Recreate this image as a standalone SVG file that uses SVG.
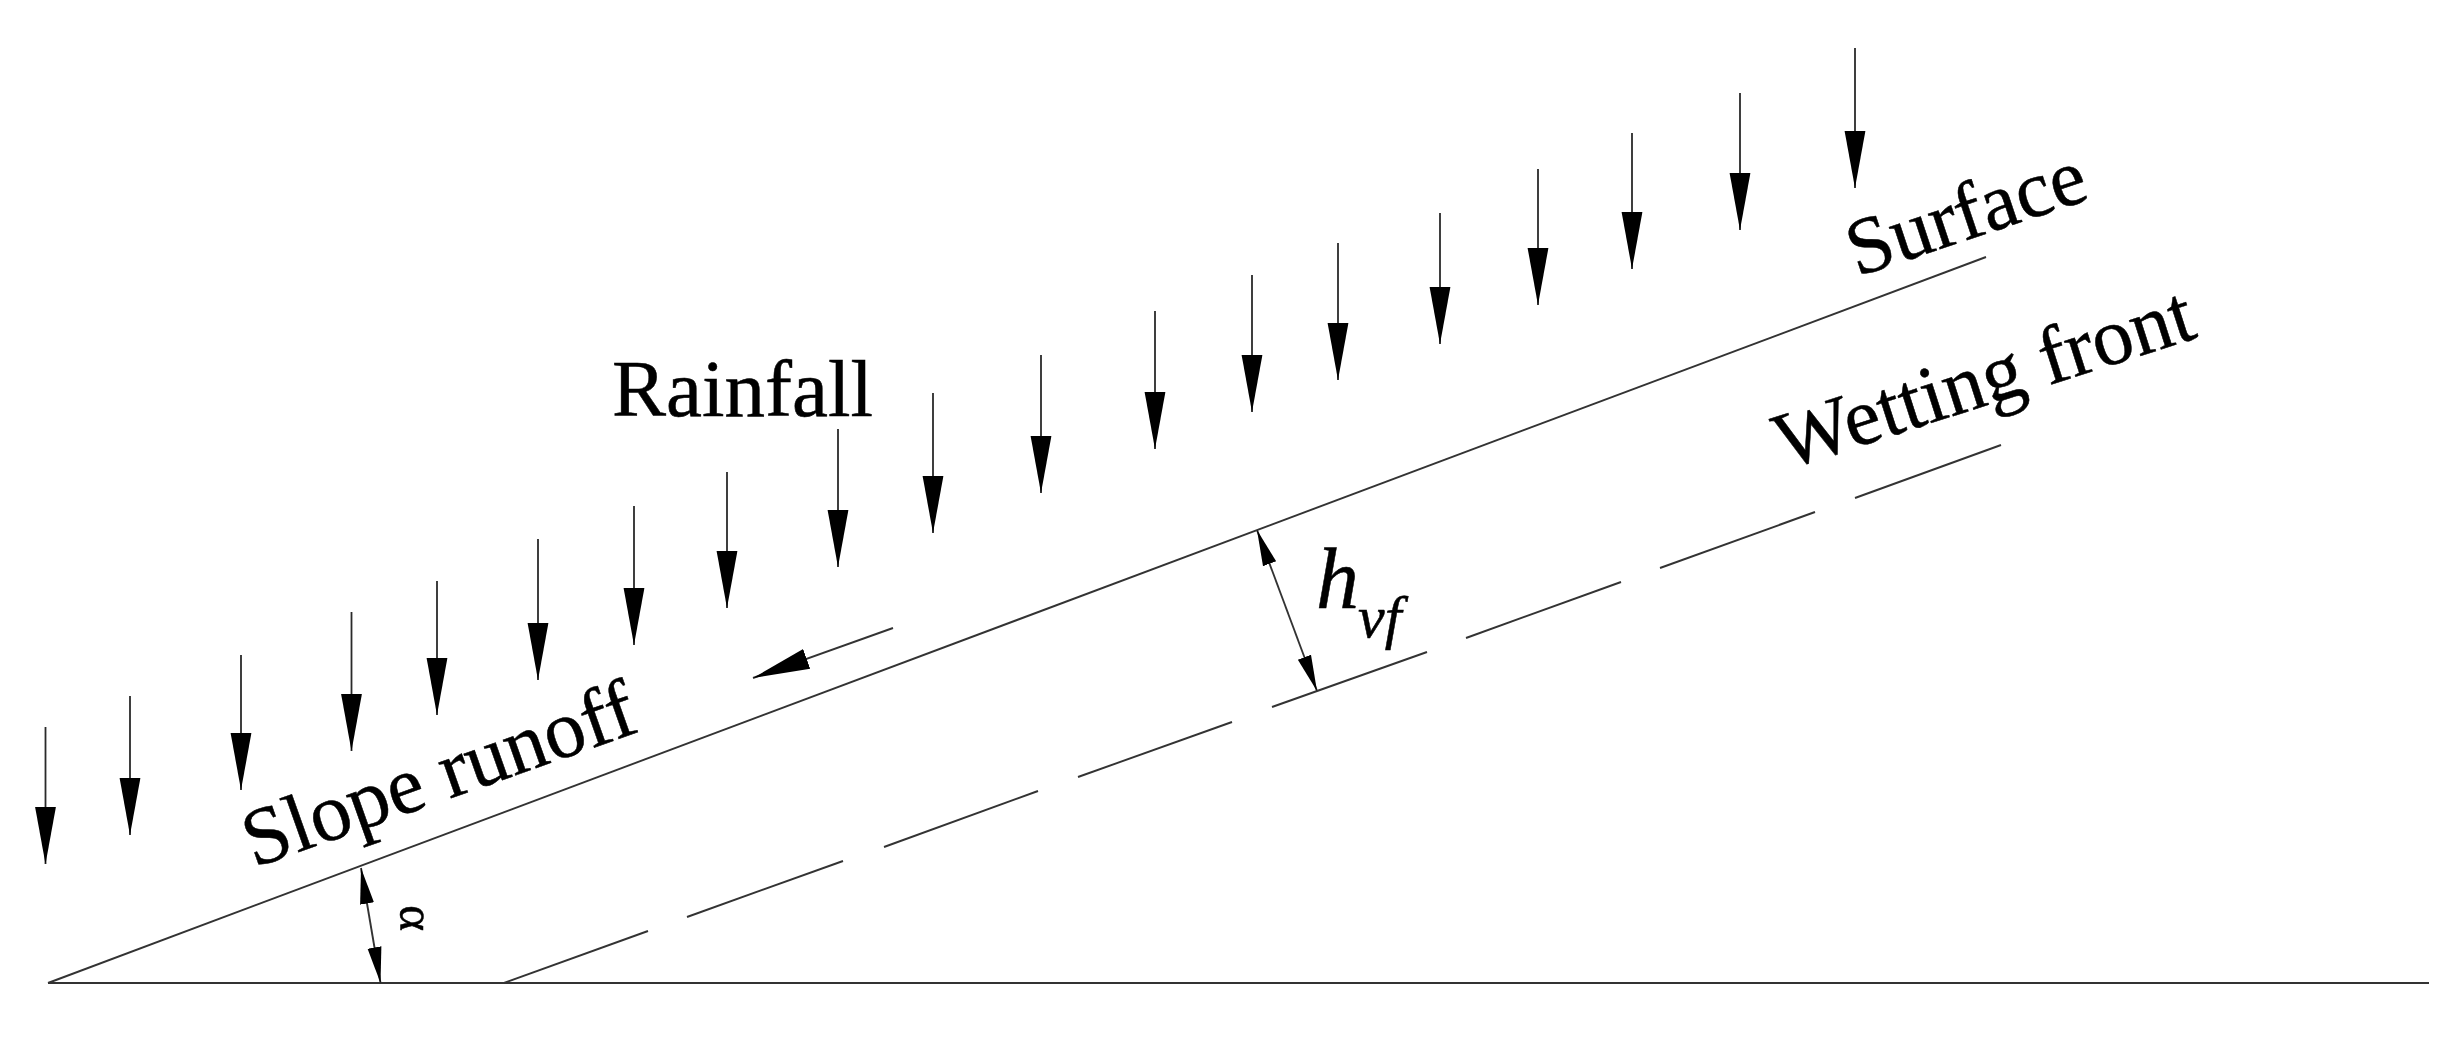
<svg xmlns="http://www.w3.org/2000/svg" width="2454" height="1041" viewBox="0 0 2454 1041">
<style>
.l{stroke:#333;stroke-width:1.9;fill:none}
.r{stroke:#2a2a2a;stroke-width:1.8;fill:none;marker-end:url(#rain)}
.t{font-family:"Liberation Serif","Times New Roman",serif;font-size:81px;fill:#000;stroke:#000;stroke-width:.5}
.i{font-style:italic}
</style>
<defs>
<marker id="rain" markerUnits="userSpaceOnUse" markerWidth="60" markerHeight="24" refX="57" refY="12" orient="auto" viewBox="0 0 60 24"><path d="M0,1.6 L57,12 L0,22.4 Z" fill="#000"/></marker>
<marker id="runoff" markerUnits="userSpaceOnUse" markerWidth="60" markerHeight="26" refX="57" refY="13" orient="auto" viewBox="0 0 60 26"><path d="M0,2.5 L57,13 L0,23.5 Z" fill="#000"/></marker>
<marker id="dim" markerUnits="userSpaceOnUse" markerWidth="40" markerHeight="20" refX="36" refY="10" orient="auto-start-reverse" viewBox="0 0 40 20"><path d="M0,3 L36,10 L0,17 Z" fill="#000"/></marker>
</defs>
<rect width="2454" height="1041" fill="#fff"/>
<g id="ground"><line class="l" x1="48" y1="983" x2="2429" y2="983"/></g>
<g id="connectors">
<line class="l" id="surface-line" x1="48" y1="983" x2="1986" y2="257"/>
<g id="wetting-front-line">
<line class="l" x1="504" y1="983" x2="648" y2="931"/>
<line class="l" x1="687" y1="917" x2="843" y2="861"/>
<line class="l" x1="884" y1="847" x2="1038" y2="791"/>
<line class="l" x1="1078" y1="777" x2="1232" y2="722"/>
<line class="l" x1="1272" y1="707" x2="1427" y2="652"/>
<line class="l" x1="1466" y1="638" x2="1621" y2="582"/>
<line class="l" x1="1660" y1="568" x2="1815" y2="512"/>
<line class="l" x1="1855" y1="498" x2="2001" y2="445"/>
</g>
<g id="rain-arrows">
<line class="r" x1="45.5" y1="727" x2="45.5" y2="864"/>
<line class="r" x1="130" y1="696" x2="130" y2="835"/>
<line class="r" x1="241" y1="655" x2="241" y2="790"/>
<line class="r" x1="351.5" y1="612" x2="351.5" y2="751"/>
<line class="r" x1="437" y1="581" x2="437" y2="715"/>
<line class="r" x1="538" y1="539" x2="538" y2="680"/>
<line class="r" x1="634" y1="506" x2="634" y2="645"/>
<line class="r" x1="727" y1="472" x2="727" y2="608"/>
<line class="r" x1="838" y1="429" x2="838" y2="567"/>
<line class="r" x1="933" y1="393" x2="933" y2="533"/>
<line class="r" x1="1041" y1="355" x2="1041" y2="493"/>
<line class="r" x1="1155" y1="311" x2="1155" y2="449"/>
<line class="r" x1="1252" y1="275" x2="1252" y2="412"/>
<line class="r" x1="1338" y1="243" x2="1338" y2="380"/>
<line class="r" x1="1440" y1="213" x2="1440" y2="344"/>
<line class="r" x1="1538" y1="169" x2="1538" y2="305"/>
<line class="r" x1="1632" y1="133" x2="1632" y2="269"/>
<line class="r" x1="1740" y1="93" x2="1740" y2="230"/>
<line class="r" x1="1855" y1="48" x2="1855" y2="188"/>
</g>
<line class="l" id="runoff-arrow" x1="893" y1="628" x2="753" y2="678" marker-end="url(#runoff)"/>
<line class="l" id="depth-arrow" x1="1257" y1="530" x2="1317" y2="691" marker-start="url(#dim)" marker-end="url(#dim)"/>
<line class="l" id="angle-arrow" x1="361" y1="868" x2="380.5" y2="983" marker-start="url(#dim)" marker-end="url(#dim)"/>
</g>
<g id="labels">
<text id="rainfall" class="t" x="612" y="416">Rainfall</text>
<text id="slope-runoff" class="t" transform="translate(254 868) rotate(-19.5)" style="font-size:82px">Slope runoff</text>
<text id="surface" class="t" transform="translate(1857 277) rotate(-18.5)">Surface</text>
<text id="wetting-front" class="t" transform="translate(1785 470) rotate(-17.8)" style="font-size:81.5px">Wetting front</text>
<text id="h" class="t i" x="1316" y="608" style="font-size:86px">h</text>
<text id="vf" class="t i" x="1358" y="637" style="font-size:60px">vf</text>
<text id="alpha" class="t" transform="translate(400 905) rotate(90)" style="font-size:50px">α</text>
</g>
</svg>
